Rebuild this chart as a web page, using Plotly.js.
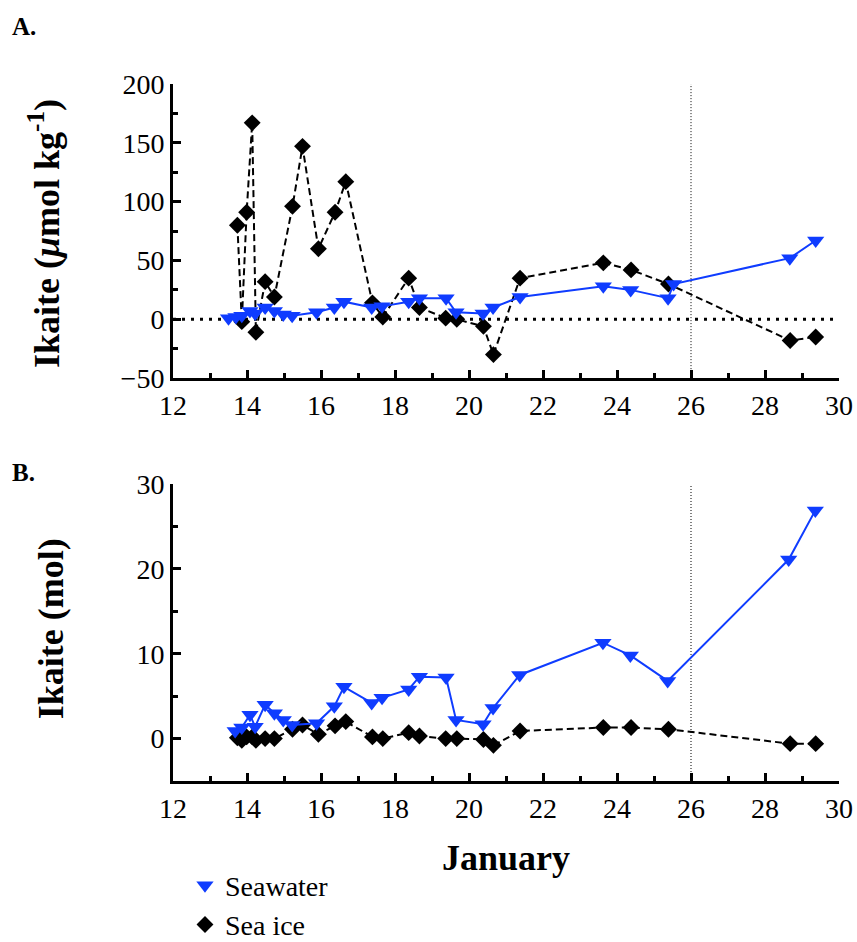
<!DOCTYPE html>
<html>
<head>
<meta charset="utf-8">
<script src="https://cdn.plot.ly/plotly-3.0.1.min.js"></script>
<style>html,body{margin:0;padding:0;background:#fff;}</style>
</head>
<body>
<div id="chart" style="width:857px;height:942px;"></div>
<script>
// ---- Data ----
const iceDays = [13.74, 13.86, 13.99, 14.14, 14.24, 14.49, 14.74, 15.23, 15.5, 15.93, 16.38, 16.67, 17.39, 17.67, 18.37, 18.66, 19.37, 19.67, 20.39, 20.66, 21.38, 23.63, 24.38, 25.39, 28.68, 29.37];
const iceA = [80, -2, 91, 167, -11, 32, 19, 96, 147, 60, 91, 117, 14, 2, 35, 10, 1, 0, -6, -30, 35, 48, 42, 30, -18, -15];
const iceB = [0.1, -0.2, 0.2, 0.2, -0.2, 0, 0, 1.1, 1.6, 0.5, 1.5, 2.0, 0.2, 0, 0.7, 0.3, 0, 0, -0.1, -0.8, 0.9, 1.3, 1.3, 1.1, -0.6, -0.6];

const swDaysA = [13.5, 13.7, 13.86, 14.08, 14.22, 14.49, 14.74, 14.98, 15.22, 15.88, 16.36, 16.62, 17.37, 17.65, 18.37, 18.66, 19.38, 19.65, 20.38, 20.65, 21.38, 23.63, 24.37, 25.38, 25.53, 28.67, 29.37];
const swA = [1, 2, 3, 7, 5, 10, 7, 4, 3, 6, 10, 15, 10, 11, 15, 18, 18, 6, 5, 10, 19, 28, 25, 18, 30, 52, 67];

const swDaysB = [13.68, 13.86, 14.08, 14.22, 14.49, 14.74, 14.98, 15.22, 15.88, 16.36, 16.62, 17.37, 17.65, 18.37, 18.66, 19.38, 19.65, 20.38, 20.65, 21.37, 23.62, 24.36, 25.37, 28.64, 29.36];
const swB = [0.9, 1.3, 2.8, 1.4, 4.0, 3.0, 2.2, 1.6, 1.8, 3.8, 6.1, 4.2, 4.8, 5.8, 7.3, 7.2, 2.2, 1.7, 3.6, 7.5, 11.3, 9.8, 6.8, 21.1, 26.9];

const seriesNames = ["Seawater", "Sea ice"];
const xTickVals = [12, 14, 16, 18, 20, 22, 24, 26, 28, 30];
const yTickValsA = [-50, 0, 50, 100, 150, 200];
const yTickValsB = [0, 10, 20, 30];
const markerDay = 26;

// ---- Styles ----
const BLUE = '#0f3cff';
const FONT = 'Liberation Serif';
const swLine = {color: BLUE, width: 2};
const swMarker = {symbol: 'triangle-down', size: 15, color: BLUE};
const iceLine = {color: 'black', width: 2, dash: '7px,4px'};
const iceMarker = {symbol: 'diamond', size: 13, color: 'black'};

const traces = [
  {x: iceDays, y: iceA, xaxis: 'x', yaxis: 'y', mode: 'lines+markers', line: iceLine, marker: iceMarker, showlegend: false, name: seriesNames[1]},
  {x: swDaysA, y: swA, xaxis: 'x', yaxis: 'y', mode: 'lines+markers', line: swLine, marker: swMarker, showlegend: false, name: seriesNames[0]},
  {x: iceDays, y: iceB, xaxis: 'x2', yaxis: 'y2', mode: 'lines+markers', line: iceLine, marker: iceMarker, showlegend: false, name: seriesNames[1]},
  {x: swDaysB, y: swB, xaxis: 'x2', yaxis: 'y2', mode: 'lines+markers', line: swLine, marker: swMarker, showlegend: false, name: seriesNames[0]},
  {x: [null], y: [null], xaxis: 'x2', yaxis: 'y2', mode: 'markers', marker: swMarker, name: seriesNames[0], showlegend: true},
  {x: [null], y: [null], xaxis: 'x2', yaxis: 'y2', mode: 'markers', marker: iceMarker, name: seriesNames[1], showlegend: true}
];

const axisCommon = {
  showline: true, linewidth: 3, linecolor: 'black', mirror: false,
  showgrid: false, zeroline: false,
  ticks: 'inside', ticklen: 8, tickwidth: 3, tickcolor: 'black',
  tickfont: {family: FONT, size: 28, color: 'black'},
  fixedrange: true
};

const xCommon = Object.assign({}, axisCommon, {
  range: [12, 30], tickvals: xTickVals,
  minor: {dtick: 1, tick0: 12, ticks: 'inside', ticklen: 5, tickwidth: 3, tickcolor: 'black', showgrid: false}
});

const layout = {
  width: 857, height: 942,
  margin: {l: 173, r: 18, t: 84, b: 161, autoexpand: false},
  paper_bgcolor: 'white', plot_bgcolor: 'white',
  font: {family: FONT, color: 'black'},
  xaxis: Object.assign({}, xCommon, {anchor: 'y', domain: [0, 1]}),
  yaxis: Object.assign({}, axisCommon, {
    anchor: 'x', domain: [0.578, 1], range: [-50, 200], tickvals: yTickValsA,
    minor: {dtick: 25, tick0: 0, ticks: 'inside', ticklen: 5, tickwidth: 3, tickcolor: 'black', showgrid: false}
  }),
  xaxis2: Object.assign({}, xCommon, {anchor: 'y2', domain: [0, 1]}),
  yaxis2: Object.assign({}, axisCommon, {
    anchor: 'x2', domain: [0, 0.426], range: [-5, 30], tickvals: yTickValsB,
    minor: {dtick: 5, tick0: 0, ticks: 'inside', ticklen: 5, tickwidth: 3, tickcolor: 'black', showgrid: false}
  }),
  shapes: [
    {type: 'line', xref: 'x', yref: 'y', x0: 12, x1: 30, y0: 0, y1: 0, layer: 'below',
     line: {color: 'black', width: 3, dash: '3px,6px'}},
    {type: 'line', xref: 'x', yref: 'y domain', x0: markerDay, x1: markerDay, y0: 0, y1: 1, layer: 'below',
     line: {color: 'black', width: 1, dash: '1px,2px'}},
    {type: 'line', xref: 'x2', yref: 'y2 domain', x0: markerDay, x1: markerDay, y0: 0, y1: 1, layer: 'below',
     line: {color: 'black', width: 1, dash: '1px,2px'}}
  ],
  annotations: [
    {text: '<b>A.</b>', xref: 'paper', yref: 'paper', x: -0.245, y: 1.083, xanchor: 'left', yanchor: 'middle', showarrow: false, font: {family: FONT, size: 25}},
    {text: '<b>B.</b>', xref: 'paper', yref: 'paper', x: -0.245, y: 0.442, xanchor: 'left', yanchor: 'middle', showarrow: false, font: {family: FONT, size: 25}},
    {text: '<b>Ikaite (<i>μ</i>mol kg<sup>-1</sup>)</b>', xref: 'paper', yref: 'paper', x: -0.192, y: 0.785, xanchor: 'center', yanchor: 'middle', textangle: -90, showarrow: false, font: {family: FONT, size: 36}},
    {text: '<b>Ikaite (mol)</b>', xref: 'paper', yref: 'paper', x: -0.183, y: 0.218, xanchor: 'center', yanchor: 'middle', textangle: -90, showarrow: false, font: {family: FONT, size: 36}},
    {text: '<b>January</b>', xref: 'paper', yref: 'paper', x: 0.5, y: -0.110, xanchor: 'center', yanchor: 'middle', showarrow: false, font: {family: FONT, size: 36}}
  ],
  showlegend: true,
  legend: {
    x: 0.018, y: -0.114, xanchor: 'left', yanchor: 'top',
    bgcolor: 'rgba(0,0,0,0)', borderwidth: 0,
    font: {family: FONT, size: 28, color: 'black'},
    traceorder: 'normal'
  }
};

Plotly.newPlot('chart', traces, layout, {displayModeBar: false, staticPlot: true});
</script>
</body>
</html>
